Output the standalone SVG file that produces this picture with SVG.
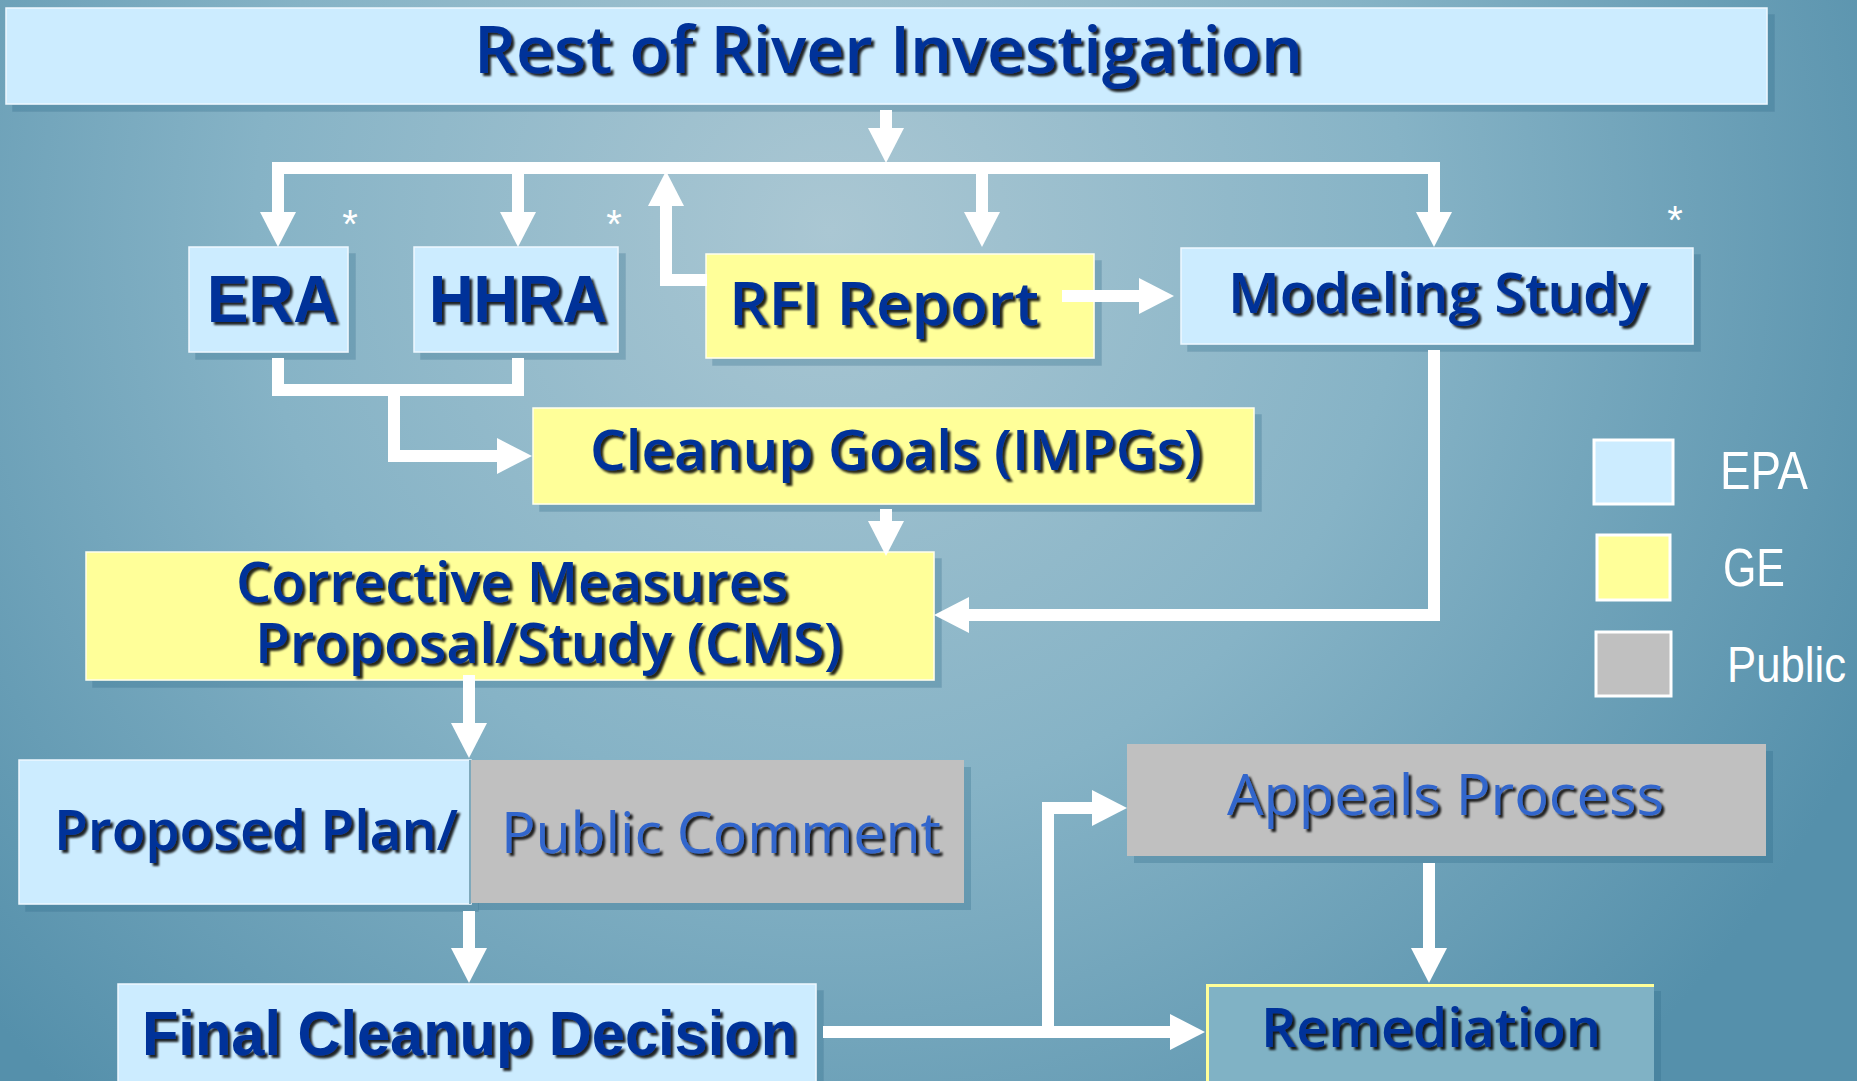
<svg xmlns="http://www.w3.org/2000/svg" width="1857" height="1081" viewBox="0 0 1857 1081">
<defs>
  <radialGradient id="bg" gradientUnits="userSpaceOnUse" cx="830" cy="230" r="1150">
    <stop offset="0" stop-color="#aac7d3"/>
    <stop offset="0.5" stop-color="#86b3c6"/>
    <stop offset="1" stop-color="#5590ab"/>
  </radialGradient>
  <filter id="ts" x="-5%" y="-20%" width="110%" height="140%">
    <feDropShadow dx="3" dy="3" stdDeviation="0.8" flood-color="#000" flood-opacity="0.85"/>
  </filter>
  <filter id="bs" x="-5%" y="-5%" width="110%" height="120%">
    <feDropShadow dx="7" dy="7" stdDeviation="0" flood-color="#2f6a87" flood-opacity="0.3"/>
  </filter>
  <marker id="ah" viewBox="0 0 35 36" refX="0" refY="18" markerWidth="35" markerHeight="36" markerUnits="userSpaceOnUse" orient="auto">
    <path d="M0,0 L35,18 L0,36 z" fill="#fff"/>
  </marker>
  <style>
    .epa{fill:#ccecff;stroke:#eef8ff;stroke-width:1.5}
    .ge{fill:#ffff99;stroke:#ffffee;stroke-width:1.5}
    .pub{fill:#c0c0c0}
    .cal{font-family:"Open Sans",Lato,"Noto Sans",sans-serif;font-weight:600;fill:#003399}
    .ari{font-family:"Liberation Sans",Arial,sans-serif;font-weight:bold;fill:#003399}
    .lt{fill:#3366cc;font-weight:normal}
    .leg{font-family:"Liberation Sans",Arial,sans-serif;fill:#fff}
    .con{fill:none;stroke:#fff;stroke-width:12;stroke-linejoin:miter}
    .ast{font-family:"Liberation Sans",Arial,sans-serif;fill:#fff;font-size:40px;text-anchor:middle}
  </style>
</defs>
<rect x="0" y="0" width="1857" height="1081" fill="url(#bg)"/>

<g id="title">
  <rect class="epa" x="6" y="8" width="1761" height="96" filter="url(#bs)"/>
  <text class="cal" x="474" y="73" font-size="66" textLength="829" lengthAdjust="spacingAndGlyphs" filter="url(#ts)" font-weight="normal">Rest of River Investigation</text>
</g>

<g id="era">
  <rect class="epa" x="189" y="247" width="159" height="105" filter="url(#bs)"/>
  <text class="ari" x="207" y="322" font-size="66" textLength="131" lengthAdjust="spacingAndGlyphs" filter="url(#ts)">ERA</text>
  <text class="ast" x="350" y="238">*</text>
</g>

<g id="hhra">
  <rect class="epa" x="414" y="247" width="204" height="105" filter="url(#bs)"/>
  <text class="ari" x="429" y="322" font-size="66" textLength="178" lengthAdjust="spacingAndGlyphs" filter="url(#ts)">HHRA</text>
  <text class="ast" x="614" y="238">*</text>
</g>

<g id="rfi">
  <rect class="ge" x="706" y="254" width="388" height="104" filter="url(#bs)"/>
  <text class="cal" x="729" y="325" font-size="60" textLength="310" lengthAdjust="spacingAndGlyphs" filter="url(#ts)">RFI Report</text>
</g>

<g id="modeling">
  <rect class="epa" x="1181" y="248" width="512" height="96" filter="url(#bs)"/>
  <text class="cal" x="1228" y="313" font-size="56" textLength="420" lengthAdjust="spacingAndGlyphs" filter="url(#ts)">Modeling Study</text>
  <text class="ast" x="1675" y="234">*</text>
</g>

<g id="cleanup">
  <rect class="ge" x="533" y="408" width="721" height="96" filter="url(#bs)"/>
  <text class="cal" x="590" y="470" font-size="56" textLength="612" lengthAdjust="spacingAndGlyphs" filter="url(#ts)">Cleanup Goals (IMPGs)</text>
</g>

<g id="cms">
  <rect class="ge" x="86" y="552" width="848" height="128" filter="url(#bs)"/>
  <text class="cal" x="236" y="602" font-size="56" textLength="552" lengthAdjust="spacingAndGlyphs" filter="url(#ts)">Corrective Measures</text>
  <text class="cal" x="255" y="663" font-size="56" textLength="587" lengthAdjust="spacingAndGlyphs" filter="url(#ts)">Proposal/Study (CMS)</text>
</g>

<g id="proposed">
  <rect class="epa" x="19" y="760" width="452" height="144" filter="url(#bs)"/>
  <rect class="pub" x="471" y="760" width="493" height="143" filter="url(#bs)"/>
  <line x1="470" y1="760" x2="470" y2="904" stroke="#7fa9bb" stroke-width="2"/>
  <text class="cal" x="54" y="850" font-size="56" textLength="404" lengthAdjust="spacingAndGlyphs" filter="url(#ts)">Proposed Plan/</text>
  <text class="cal lt" x="501" y="853" font-size="56" textLength="440" lengthAdjust="spacingAndGlyphs" filter="url(#ts)">Public Comment</text>
</g>

<g id="final">
  <rect class="epa" x="118" y="984" width="698" height="110" filter="url(#bs)"/>
  <text class="ari" x="142" y="1055" font-size="63" textLength="655" lengthAdjust="spacingAndGlyphs" filter="url(#ts)">Final Cleanup Decision</text>
</g>

<g id="appeals">
  <rect class="pub" x="1127" y="744" width="639" height="112" filter="url(#bs)"/>
  <text class="cal lt" x="1227" y="815" font-size="56" textLength="437" lengthAdjust="spacingAndGlyphs" filter="url(#ts)">Appeals Process</text>
</g>

<g id="remediation">
  <rect x="1206" y="984" width="448" height="110" fill="#80b2c5" filter="url(#bs)"/>
  <path d="M1207.5,1094 L1207.5,985.5 L1654,985.5" fill="none" stroke="#ffff99" stroke-width="3"/>
  <text class="cal" x="1261" y="1047" font-size="54" textLength="340" lengthAdjust="spacingAndGlyphs" filter="url(#ts)">Remediation</text>
</g>

<g id="legend">
  <rect x="1594" y="440" width="79" height="64" fill="#ccecff" stroke="#fff" stroke-width="3"/>
  <rect x="1597" y="535" width="73" height="65" fill="#ffff99" stroke="#fff" stroke-width="3"/>
  <rect x="1596" y="632" width="75" height="64" fill="#c0c0c0" stroke="#fff" stroke-width="3"/>
  <text class="leg" x="1720" y="489" font-size="54" textLength="88" lengthAdjust="spacingAndGlyphs">EPA</text>
  <text class="leg" x="1723" y="586" font-size="54" textLength="62" lengthAdjust="spacingAndGlyphs">GE</text>
  <text class="leg" x="1727" y="682" font-size="50" textLength="119" lengthAdjust="spacingAndGlyphs">Public</text>
</g>

<g id="connectors">
  <path class="con" d="M886,110 L886,128" marker-end="url(#ah)"/>
  <path class="con" d="M278,212 L278,168 L1434,168 L1434,212" marker-end="url(#ah)"/>
  <path class="con" d="M278,170 L278,212" marker-end="url(#ah)"/>
  <path class="con" d="M518,168 L518,212" marker-end="url(#ah)"/>
  <path class="con" d="M982,168 L982,212" marker-end="url(#ah)"/>
  <path class="con" d="M707,280 L666,280 L666,206" marker-end="url(#ah)"/>
  <path class="con" d="M278,358 L278,390 L518,390 L518,358"/>
  <path class="con" d="M394,390 L394,456 L497,456" marker-end="url(#ah)"/>
  <path class="con" d="M1062,296 L1139,296" marker-end="url(#ah)"/>
  <path class="con" d="M886,509 L886,521" marker-end="url(#ah)"/>
  <path class="con" d="M1434,350 L1434,615 L969,615" marker-end="url(#ah)"/>
  <path class="con" d="M469,675 L469,723" marker-end="url(#ah)"/>
  <path class="con" d="M469,911 L469,948" marker-end="url(#ah)"/>
  <path class="con" d="M823,1032 L1170,1032" marker-end="url(#ah)"/>
  <path class="con" d="M1048,1032 L1048,808 L1092,808" marker-end="url(#ah)"/>
  <path class="con" d="M1429,863 L1429,948" marker-end="url(#ah)"/>
</g>
</svg>
